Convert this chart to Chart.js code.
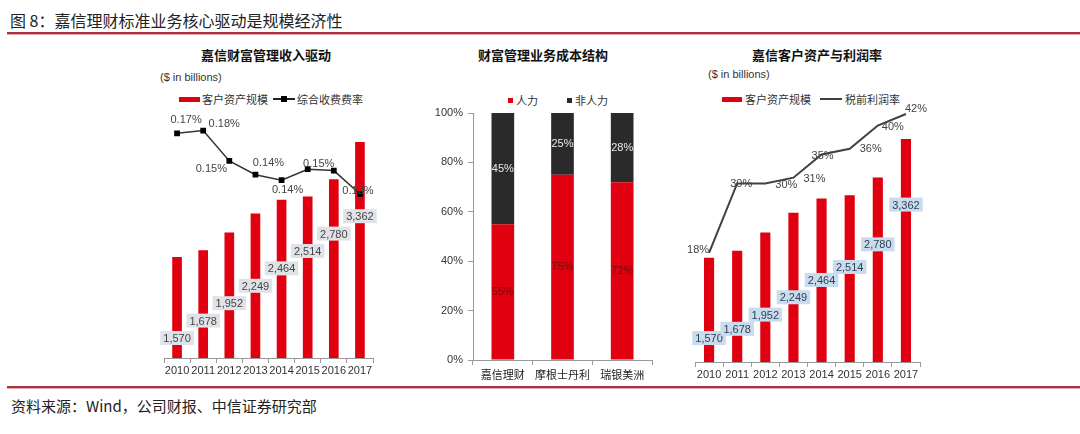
<!DOCTYPE html>
<html>
<head>
<meta charset="utf-8">
<script src="https://cdn.jsdelivr.net/npm/chart.js@4.4.1/dist/chart.umd.min.js"></script>
<style>
  body { margin: 0; width: 1080px; height: 434px; background: #fff; position: relative; overflow: hidden;
         font-family: "Liberation Sans", "Noto Sans CJK SC", sans-serif; color: #333; }
  .t { position: absolute; white-space: nowrap; line-height: 16px; height: 16px; }
  .cjk { font-family: "Noto Sans CJK SC", sans-serif; }
  .rule { position: absolute; left: 7px; right: 0; height: 2px; background: #a8303f; border-bottom: 1px solid #e3a9b0; }
  .box { position: absolute; }
  .box canvas { display: block; }
  .sw { position: absolute; }
</style>
</head>
<body>

<div class="t cjk" style="left:10px;top:11px;font-size:16px;line-height:18px;height:18px;color:#222">图 8：嘉信理财标准业务核心驱动是规模经济性</div>
<div class="rule" style="top:32px"></div>

<!-- left chart headings -->
<div class="t cjk" style="left:201px;top:47px;font-size:13px;font-weight:700;color:#111">嘉信财富管理收入驱动</div>
<div class="t" style="left:160px;top:69px;font-size:11px">($ in billions)</div>
<div class="sw" style="left:179px;top:97px;width:21px;height:5px;background:#e0000f"></div>
<div class="t cjk" style="left:202px;top:91px;font-size:11px">客户资产规模</div>
<div class="sw" style="left:273px;top:98px;width:22px;height:2px;background:#222"></div>
<div class="sw" style="left:281px;top:96px;width:6px;height:6px;background:#000"></div>
<div class="t cjk" style="left:297px;top:91px;font-size:11px">综合收费费率</div>

<!-- middle chart headings -->
<div class="t cjk" style="left:478px;top:47px;font-size:13px;font-weight:700;color:#111">财富管理业务成本结构</div>
<div class="sw" style="left:508px;top:98px;width:5px;height:5px;background:#e0000f"></div>
<div class="t cjk" style="left:516px;top:92px;font-size:11px">人力</div>
<div class="sw" style="left:567px;top:98px;width:5px;height:5px;background:#2a2a2a"></div>
<div class="t cjk" style="left:575px;top:92px;font-size:11px">非人力</div>

<!-- right chart headings -->
<div class="t cjk" style="left:752px;top:47px;font-size:13px;font-weight:700;color:#111">嘉信客户资产与利润率</div>
<div class="t" style="left:708px;top:66px;font-size:11px">($ in billions)</div>
<div class="sw" style="left:722px;top:97px;width:20px;height:5px;background:#e0000f"></div>
<div class="t cjk" style="left:745px;top:91px;font-size:11px">客户资产规模</div>
<div class="sw" style="left:820px;top:98px;width:22px;height:2px;background:#404040"></div>
<div class="t cjk" style="left:845px;top:91px;font-size:11px">税前利润率</div>

<div class="box" style="left:150px;top:110px;width:240px;height:270px"><canvas id="left" width="240" height="270"></canvas></div>
<div class="box" style="left:420px;top:100px;width:240px;height:285px"><canvas id="mid" width="240" height="285"></canvas></div>
<div class="box" style="left:680px;top:95px;width:260px;height:289px"><canvas id="right" width="260" height="289"></canvas></div>

<div class="rule" style="top:386px"></div>
<div class="t cjk" style="left:11px;top:397px;font-size:15px;line-height:18px;height:18px;color:#222">资料来源：Wind，公司财报、中信证券研究部</div>

<script>
// ---- data ----
const years = ['2010', '2011', '2012', '2013', '2014', '2015', '2016', '2017'];
const clientAssets = [1570, 1678, 1952, 2249, 2464, 2514, 2780, 3362];   // $ bn
const feeRate = [0.174, 0.176, 0.154, 0.144, 0.140, 0.148, 0.147, 0.130]; // %
const pretaxMargin = [18, 30, 30, 31, 35, 36, 40, 42];                    // %

const firms = ['嘉信理财', '摩根士丹利', '瑞银美洲'];
const laborShare = [55, 75, 72];
const nonLaborShare = [45, 25, 28];

const RED = '#e0000f';
const FONT = '"Liberation Sans", "Noto Sans CJK SC", sans-serif';
Chart.defaults.font.family = FONT;
Chart.defaults.font.size = 11;
Chart.defaults.color = '#333';
Chart.defaults.animation = false;

// boxed value labels on the bars
function boxLabels(boxColor, textColor, lift) {
  return {
    id: 'boxLabels',
    afterDatasetsDraw(chart) {
      const ctx = chart.ctx;
      const base = chart.scales.y.getPixelForValue(0);
      const ds = chart.data.datasets.findIndex(d => d.type === 'bar');
      chart.getDatasetMeta(ds).data.forEach((bar, i) => {
        const txt = chart.data.datasets[ds].data[i].toLocaleString('en-US');
        const y = base - lift(i, base - bar.y);
        ctx.save();
        ctx.font = '11px ' + FONT;
        const w = ctx.measureText(txt).width + 6;
        ctx.fillStyle = boxColor;
        ctx.fillRect(bar.x - w / 2, y - 7, w, 14);
        ctx.fillStyle = textColor;
        ctx.textAlign = 'center';
        ctx.textBaseline = 'middle';
        ctx.fillText(txt, bar.x, y + 1);
        ctx.restore();
      });
    }
  };
}

// text labels next to the line points
function lineLabels(fmt, offsets) {
  return {
    id: 'lineLabels',
    afterDatasetsDraw(chart) {
      const ctx = chart.ctx;
      const ds = chart.data.datasets.findIndex(d => d.type === 'line');
      chart.getDatasetMeta(ds).data.forEach((pt, i) => {
        if (!offsets[i]) return;
        ctx.save();
        ctx.font = '11px ' + FONT;
        ctx.fillStyle = '#444';
        ctx.textAlign = 'center';
        ctx.textBaseline = 'middle';
        ctx.fillText(fmt(chart.data.datasets[ds].data[i]), pt.x + offsets[i][0], pt.y + offsets[i][1]);
        ctx.restore();
      });
    }
  };
}

function yearAxis(h) {
  return {
    grid: { display: true, drawOnChartArea: false, offset: true, tickLength: 5, color: '#999' },
    border: { color: '#999' },
    ticks: { color: '#333', padding: 1, minRotation: 0, maxRotation: 0, autoSkip: false },
    afterFit: s => { s.height = h; }
  };
}

// ---- left: client assets + fee rate ----
new Chart(document.getElementById('left'), {
  data: {
    labels: years,
    datasets: [
      { type: 'line', data: feeRate, yAxisID: 'y1', borderColor: '#333', borderWidth: 1.5,
        pointStyle: 'rect', pointRadius: 3, pointBackgroundColor: '#000', pointBorderColor: '#000', order: 0 },
      { type: 'bar', data: clientAssets, yAxisID: 'y', backgroundColor: RED,
        categoryPercentage: 1, barPercentage: 0.37, order: 1 }
    ]
  },
  options: {
    responsive: false,
    layout: { padding: { left: 14, right: 17, top: 10, bottom: 0 } },
    plugins: { legend: { display: false }, tooltip: { enabled: false } },
    scales: {
      x: yearAxis(22),
      y: { display: false, min: 0, max: 3704 },
      y1: { display: false, position: 'right', min: 0.011, max: 0.1837 }
    }
  },
  plugins: [
    boxLabels('#dfe3e8', '#444', i => 20 + 17.4 * i),
    lineLabels(v => v.toFixed(2) + '%', [[9, -13], [21, -7], [-18, 8], [13, -12], [6, 10], [11, -5], null, [-2, -3]])
  ]
});

// ---- middle: cost structure ----
new Chart(document.getElementById('mid'), {
  type: 'bar',
  data: {
    labels: firms,
    datasets: [
      { label: '人力', data: laborShare, backgroundColor: RED, categoryPercentage: 1, barPercentage: 0.38 },
      { label: '非人力', data: nonLaborShare, backgroundColor: '#2a2a2a', categoryPercentage: 1, barPercentage: 0.38 }
    ]
  },
  options: {
    responsive: false,
    layout: { padding: { left: 0, right: 8, top: 13, bottom: 0 } },
    plugins: { legend: { display: false }, tooltip: { enabled: false } },
    scales: {
      x: {
        stacked: true,
        grid: { display: true, drawOnChartArea: false, offset: true, tickLength: 5, color: '#999' },
        border: { color: '#999' },
        ticks: { color: '#222', padding: 3, minRotation: 0, maxRotation: 0, autoSkip: false,
                 font: { family: '"Noto Sans CJK SC", sans-serif', size: 11 } },
        afterFit: s => { s.height = 25; }
      },
      y: {
        stacked: true, min: 0, max: 100,
        grid: { display: true, drawOnChartArea: false, tickLength: 5, color: '#999' },
        border: { color: '#999' },
        ticks: { stepSize: 20, padding: 5, color: '#333', callback: v => v + '%' },
        afterFit: s => { s.width = 53; }
      }
    }
  },
  plugins: [{
    id: 'segLabels',
    afterDatasetsDraw(chart) {
      const ctx = chart.ctx;
      chart.data.datasets.forEach((ds, d) => {
        chart.getDatasetMeta(d).data.forEach((bar, i) => {
          ctx.save();
          ctx.font = '11px ' + FONT;
          ctx.fillStyle = d === 0 ? '#7a0a0a' : '#e8e8e8';
          ctx.textAlign = 'center';
          ctx.textBaseline = 'middle';
          ctx.fillText(ds.data[i] + '%', bar.x, (bar.y + bar.base) / 2);
          ctx.restore();
        });
      });
    }
  }]
});

// ---- right: client assets + pretax margin ----
new Chart(document.getElementById('right'), {
  data: {
    labels: years,
    datasets: [
      { type: 'line', data: pretaxMargin, yAxisID: 'y1', borderColor: '#404040', borderWidth: 2,
        pointRadius: 0, order: 0, clip: false },
      { type: 'bar', data: clientAssets, yAxisID: 'y', backgroundColor: RED,
        categoryPercentage: 1, barPercentage: 0.36, order: 1 }
    ]
  },
  options: {
    responsive: false,
    layout: { padding: { left: 15, right: 20, top: 10, bottom: 0 } },
    plugins: { legend: { display: false }, tooltip: { enabled: false } },
    scales: {
      x: yearAxis(22),
      y: { display: false, min: 0, max: 3875 },
      y1: { display: false, position: 'right', min: -0.82, max: 43.55 }
    }
  },
  plugins: [
    boxLabels('#c9dced', '#2b3f55', (i, h) => h * (0.23 + 0.068 * i)),
    lineLabels(v => v + '%', [[-11, -3], [4, 0], [21, 1], [21, 1], [1, 1], [21, 0], [15, 1], [10, -5]])
  ]
});
</script>
</body>
</html>
